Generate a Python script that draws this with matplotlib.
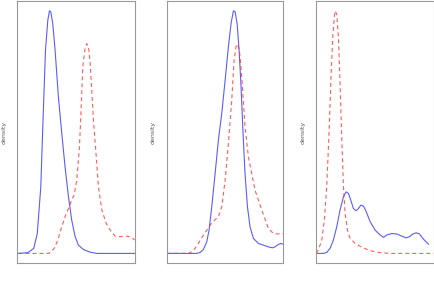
import numpy as np
import matplotlib.pyplot as plt

# density curves; x on a 0-100 scale across each panel,
# y scaled so that the tallest curve in each panel is 1

# panel 1
p1_blue_x = [1, 9, 14, 17, 20, 22, 24, 26, 27.4, 28.5, 30.2, 32.2, 35, 37.9, 40.7, 43.6, 46.4, 49.3, 52.1, 56.4, 62.1, 67.8, 100]
p1_blue_y = [0, 0.003, 0.021, 0.082, 0.275, 0.563, 0.838, 0.962, 1.0, 0.996, 0.948, 0.838, 0.646, 0.495, 0.357, 0.234, 0.137, 0.069, 0.034, 0.016, 0.005, 0, 0]
p1_red_x = [1, 26.5, 29.3, 32.2, 35, 37.9, 40.7, 43.6, 46.4, 48.4, 50.7, 53, 54.4, 55.8, 57.8, 59.3, 60.7, 62.1, 63.5, 64.9, 66.9, 69.2, 72.1, 75.8, 79.2, 83.5, 87.7, 93.4, 97.7, 100]
p1_red_y = [0, 0, 0.007, 0.027, 0.062, 0.110, 0.151, 0.185, 0.220, 0.240, 0.302, 0.440, 0.591, 0.769, 0.846, 0.865, 0.852, 0.783, 0.673, 0.549, 0.426, 0.275, 0.179, 0.124, 0.096, 0.071, 0.069, 0.071, 0.066, 0.055]

# panel 2
p2_blue_x = [0, 25.5, 28.4, 31.2, 34.1, 36.1, 38.4, 41.3, 44.1, 47, 49.9, 52.7, 55, 57, 58.5, 60.2, 61.9, 63.6, 65.3, 67, 69.1, 71.3, 74.2, 78.5, 82.8, 87.1, 90.5, 92.8, 95.7, 98, 100]
p2_blue_y = [0, 0, 0.004, 0.016, 0.048, 0.096, 0.192, 0.330, 0.467, 0.577, 0.714, 0.852, 0.948, 1.0, 0.996, 0.948, 0.838, 0.687, 0.495, 0.330, 0.192, 0.110, 0.062, 0.041, 0.034, 0.027, 0.023, 0.027, 0.037, 0.041, 0.037]
p2_red_x = [0, 18.3, 21.2, 24.1, 26.9, 30.4, 34.1, 38.4, 44.1, 47, 49.9, 52.7, 55.6, 57.6, 59.3, 60.7, 62.2, 64.2, 67, 69.9, 75.6, 81.4, 87.1, 91.4, 95.7, 100]
p2_red_y = [0, 0, 0.007, 0.021, 0.041, 0.069, 0.096, 0.126, 0.151, 0.192, 0.302, 0.453, 0.632, 0.797, 0.853, 0.863, 0.835, 0.728, 0.522, 0.398, 0.261, 0.179, 0.103, 0.082, 0.080, 0.082]

# panel 3
p3_blue_x = [0, 6, 8.8, 11.7, 14.5, 17.4, 20.2, 23.1, 25.4, 27.4, 29.3, 31.6, 33.9, 35.9, 37.9, 40.2, 42.5, 45.9, 50.1, 54.4, 57.3, 60.1, 64.4, 68.7, 73, 76.6, 79.5, 82.3, 85.2, 88, 91.5, 95.7]
p3_blue_y = [0, 0, 0.004, 0.021, 0.055, 0.110, 0.179, 0.234, 0.254, 0.247, 0.220, 0.185, 0.176, 0.185, 0.199, 0.195, 0.172, 0.131, 0.096, 0.076, 0.066, 0.076, 0.082, 0.080, 0.071, 0.064, 0.069, 0.080, 0.085, 0.080, 0.058, 0.038]
p3_red_x = [0, 1.7, 4.6, 6.8, 8.8, 10.8, 12.5, 14, 15.4, 16.2, 17.4, 18.8, 20.2, 21.7, 23.1, 24.5, 26.5, 28.8, 33.1, 38.8, 45.9, 54.4, 63, 100]
p3_red_y = [0, 0.014, 0.055, 0.137, 0.275, 0.495, 0.728, 0.893, 0.983, 1.0, 0.983, 0.893, 0.701, 0.467, 0.275, 0.165, 0.096, 0.062, 0.041, 0.025, 0.011, 0.003, 0, 0]

panels = [
    (p1_blue_x, p1_blue_y, p1_red_x, p1_red_y),
    (p2_blue_x, p2_blue_y, p2_red_x, p2_red_y),
    (p3_blue_x, p3_blue_y, p3_red_x, p3_red_y),
]

# axes boxes in figure fractions (left, bottom, width, height)
boxes = [
    (0.040, 0.067, 0.270, 0.929),
    (0.385, 0.067, 0.268, 0.929),
    (0.729, 0.067, 0.270, 0.929),
]

fig = plt.figure(figsize=(4.34, 2.82), dpi=100)

for (bx, by, rx, ry), box in zip(panels, boxes):
    ax = fig.add_axes(box)
    ax.plot(bx, by, color='#3333ff', linewidth=0.8, alpha=0.8)
    ax.plot(rx, ry, color='#ff3333', linewidth=0.8, alpha=0.8, linestyle=(0, (3.5, 2.8)))
    ax.set_xlim(0, 100)
    ax.set_ylim(-0.04, 1.04)
    ax.set_xticks([])
    ax.set_yticks([])
    for s in ax.spines.values():
        s.set_color('#999999')
        s.set_linewidth(0.8)
    ax.set_ylabel('density', fontsize=4.5, color='#555555', labelpad=8)

fig.savefig('out.png', dpi=100)
